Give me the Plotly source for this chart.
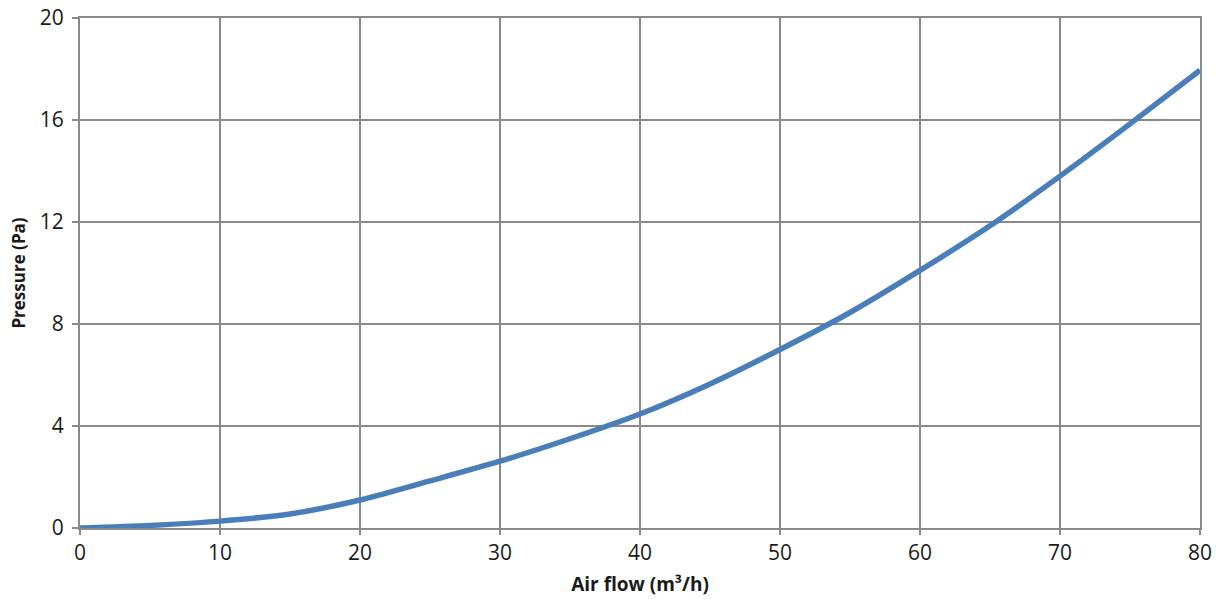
import plotly.graph_objects as go

air_flow = [0, 5, 10, 15, 20, 25, 30, 35, 40, 45, 50, 55, 60, 65, 70, 75, 80]
pressure = [0, 0.1, 0.27, 0.55, 1.1, 1.85, 2.62, 3.5, 4.47, 5.65, 7.0, 8.45, 10.1, 11.85, 13.8, 15.85, 17.95]

x_ticks = [0, 10, 20, 30, 40, 50, 60, 70, 80]
y_ticks = [0, 4, 8, 12, 16, 20]

grid = "#8a8a8a"
font_family = "'Open Sans', 'Noto Sans', sans-serif"

fig = go.Figure()
fig.add_trace(go.Scatter(
    x=air_flow, y=pressure, mode="lines",
    line=dict(color="#4a7ebb", width=5.5, shape="spline", smoothing=0.8),
    hoverinfo="skip", showlegend=False,
))

fig.update_layout(
    width=1226, height=603,
    margin=dict(l=80, r=26, t=18, b=75),
    paper_bgcolor="white", plot_bgcolor="white",
    font=dict(family=font_family, color="#1a1a1a", size=18),
    xaxis=dict(
        range=[0, 80], tickvals=x_ticks, ticktext=[str(v) for v in x_ticks],
        showgrid=True, gridcolor=grid, gridwidth=2,
        showline=True, linecolor=grid, linewidth=2, mirror=True,
        ticks="outside", ticklen=5, tickcolor=grid, tickwidth=2,
        zeroline=False, automargin=False, ticklabeloverflow="allow",
        tickfont=dict(size=21),
        title=dict(text="<b>Air flow (m³/h)</b>", font=dict(size=19), standoff=12),
    ),
    yaxis=dict(
        range=[0, 20], tickvals=y_ticks, ticktext=[str(v) for v in y_ticks],
        showgrid=True, gridcolor=grid, gridwidth=2,
        showline=True, linecolor=grid, linewidth=2, mirror=True,
        ticks="outside", ticklen=6, tickcolor=grid, tickwidth=2,
        zeroline=False, automargin=False, ticklabelstandoff=4,
        ticklabeloverflow="allow",
        tickfont=dict(size=21),
        title=dict(text="<b>Pressure (Pa)</b>", font=dict(size=17), standoff=10),
    ),
)

fig.write_html(
    "out.html",
    config={"displayModeBar": False, "staticPlot": True},
    post_script="document.body.style.margin='0';document.body.style.overflow='hidden';",
)
